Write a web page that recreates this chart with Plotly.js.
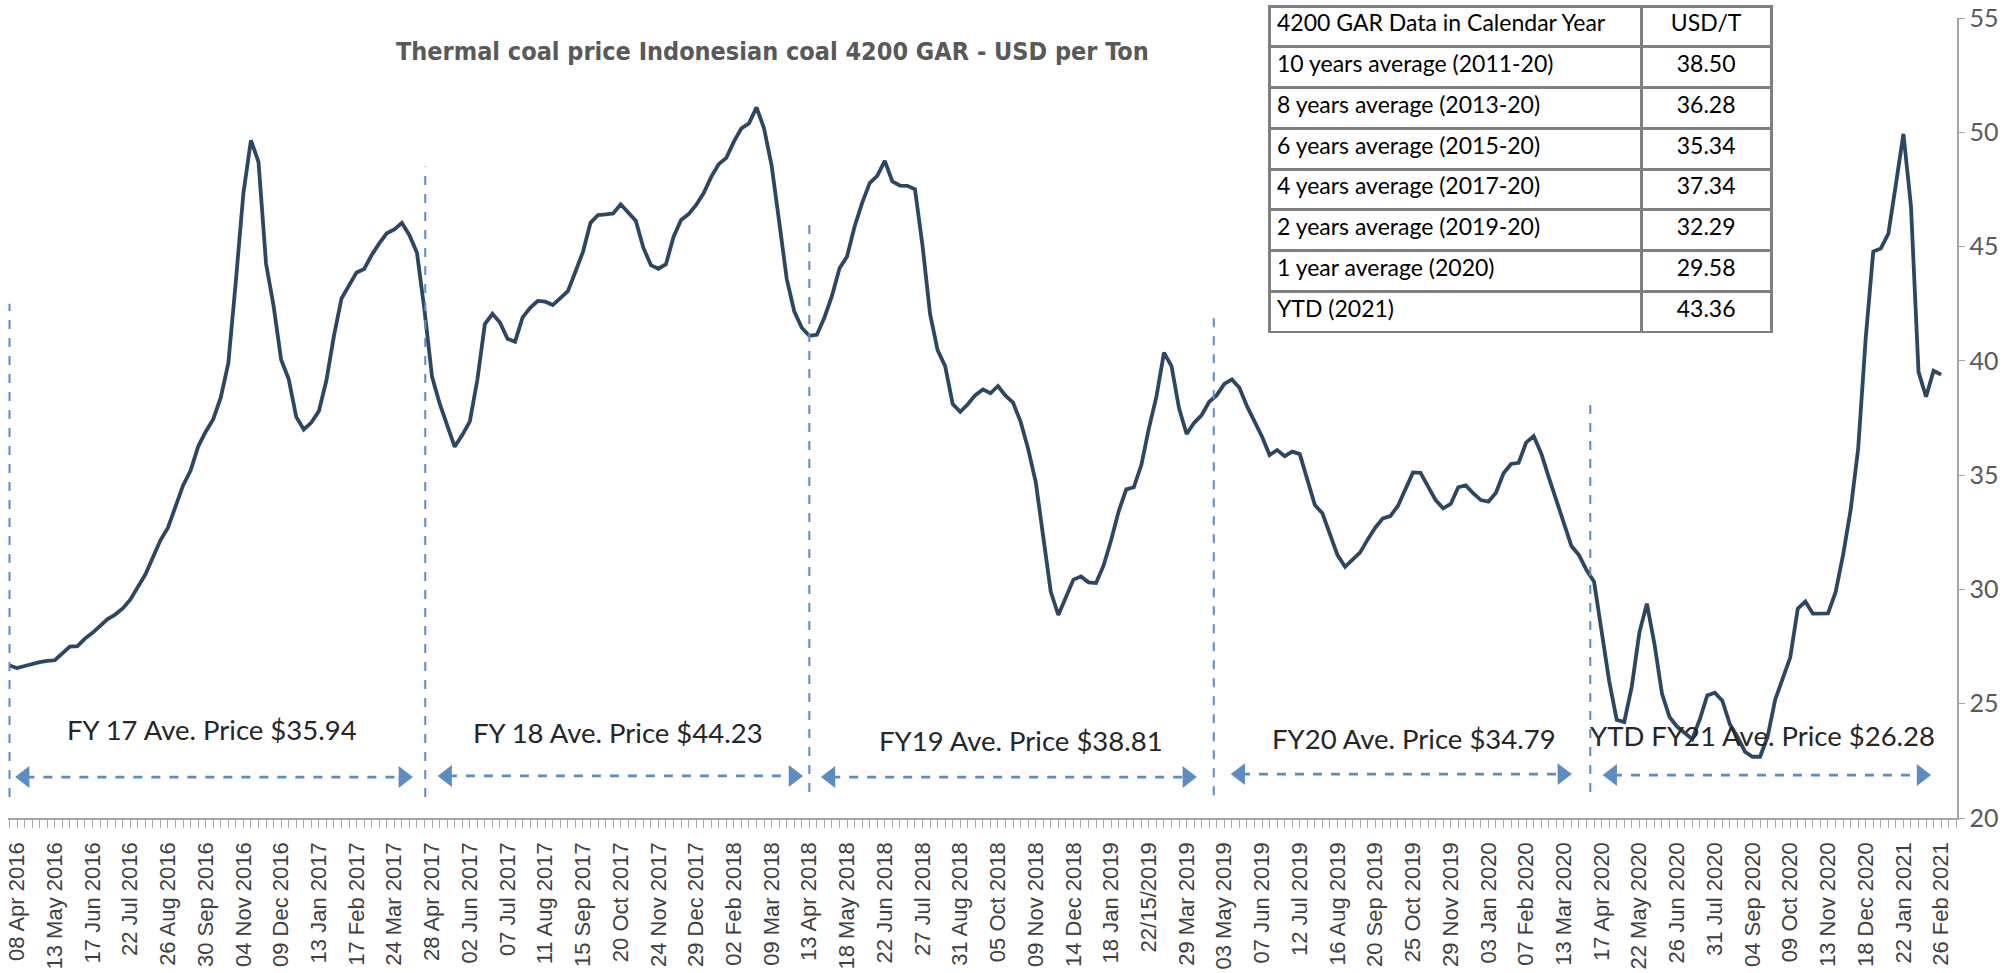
<!DOCTYPE html>
<html><head><meta charset="utf-8">
<script src="https://cdn.plot.ly/plotly-3.0.1.min.js"></script>
<style>html,body{margin:0;padding:0;background:#fff;} #chart{width:2016px;height:973px;}</style>
</head><body><div id="chart"></div>
<script>
// Weekly price, USD per ton (first point = week before 08 Apr 2016)
const prices = [
26.67,26.56,26.65,26.75,26.82,26.87,26.90,27.20,27.50,27.52,
27.85,28.10,28.40,28.70,28.90,29.17,29.55,30.10,30.65,31.40,
32.15,32.70,33.60,34.55,35.20,36.25,36.90,37.45,38.40,39.90,
43.50,47.35,49.65,48.70,44.25,42.40,40.05,39.20,37.55,37.00,
37.30,37.80,39.15,41.10,42.73,43.32,43.87,44.02,44.63,45.14,
45.58,45.75,46.04,45.50,44.73,42.20,39.30,38.14,37.19,36.24,
36.75,37.34,39.16,41.61,42.06,41.68,40.97,40.84,41.90,42.32,
42.62,42.59,42.44,42.76,43.05,43.90,44.77,46.04,46.38,46.41,
46.45,46.85,46.48,46.13,44.95,44.19,44.03,44.23,45.42,46.16,
46.42,46.82,47.34,48.05,48.61,48.88,49.59,50.17,50.39,51.09,
50.17,48.55,46.10,43.60,42.17,41.45,41.10,41.14,41.90,42.84,
44.05,44.57,45.88,46.91,47.78,48.09,48.75,47.85,47.67,47.66,
47.51,45.05,42.05,40.47,39.77,38.11,37.77,38.10,38.50,38.75,
38.58,38.90,38.48,38.17,37.34,36.15,34.71,32.45,29.90,28.88,
29.61,30.43,30.57,30.31,30.28,31.05,32.16,33.42,34.38,34.47,
35.44,37.05,38.43,40.36,39.77,37.92,36.80,37.29,37.63,38.21,
38.50,38.99,39.19,38.82,38.02,37.38,36.68,35.88,36.10,35.83,
36.03,35.92,34.79,33.69,33.33,32.38,31.50,30.99,31.29,31.62,
32.19,32.70,33.11,33.21,33.65,34.38,35.12,35.10,34.52,33.91,
33.55,33.74,34.47,34.55,34.20,33.91,33.84,34.23,35.08,35.49,
35.54,36.42,36.71,35.95,34.90,33.91,32.89,31.90,31.50,30.85,
30.34,28.20,26.00,24.30,24.20,25.75,28.10,29.38,27.62,25.44,
24.42,24.00,23.72,23.45,24.30,25.36,25.48,25.13,24.10,23.56,
22.90,22.68,22.68,23.56,25.17,26.10,27.03,29.16,29.47,28.94,
28.94,28.95,29.87,31.50,33.47,36.15,40.98,44.78,44.92,45.56,
47.72,49.93,46.77,39.52,38.43,39.57,39.40
];

// Tick labels, one every 5 weeks starting at the 2nd week
const tickLabels = [
"08 Apr 2016","13 May 2016","17 Jun 2016","22 Jul 2016","26 Aug 2016","30 Sep 2016",
"04 Nov 2016","09 Dec 2016","13 Jan 2017","17 Feb 2017","24 Mar 2017","28 Apr 2017",
"02 Jun 2017","07 Jul 2017","11 Aug 2017","15 Sep 2017","20 Oct 2017","24 Nov 2017",
"29 Dec 2017","02 Feb 2018","09 Mar 2018","13 Apr 2018","18 May 2018","22 Jun 2018",
"27 Jul 2018","31 Aug 2018","05 Oct 2018","09 Nov 2018","14 Dec 2018","18 Jan 2019",
"22/15/2019","29 Mar 2019","03 May 2019","07 Jun 2019","12 Jul 2019","16 Aug 2019",
"20 Sep 2019","25 Oct 2019","29 Nov 2019","03 Jan 2020","07 Feb 2020","13 Mar 2020",
"17 Apr 2020","22 May 2020","26 Jun 2020","31 Jul 2020","04 Sep 2020","09 Oct 2020",
"13 Nov 2020","18 Dec 2020","22 Jan 2021","26 Feb 2021"
];

// Table content
const tableHeader = ["4200 GAR Data in Calendar Year", "USD/T"];
const tableRowLabels = [
"10 years average (2011-20)","8 years average (2013-20)","6 years average (2015-20)",
"4 years average (2017-20)","2 years average (2019-20)","1 year average (2020)","YTD (2021)"
];
const tableRowValues = ["38.50","36.28","35.34","37.34","32.29","29.58","43.36"];

// Fiscal-year average labels
const fyLabels = [
"FY 17 Ave. Price $35.94","FY 18 Ave. Price $44.23","FY19 Ave. Price $38.81",
"FY20 Ave. Price $34.79","YTD FY21 Ave. Price $26.28"
];

const titleText = "Thermal coal price Indonesian coal 4200 GAR - USD per Ton";

// ---------- layout helpers (positions / styles) ----------
const xIdx = prices.map((_, i) => i);
const tickVals = tickLabels.map((_, k) => 1 + 5 * k);

const fyTextPos = [[26.8, 23.89],[80.65, 23.72],[134.1, 23.37],[186.1, 23.46],[232.3, 23.6]];
const fyArrowSpan = [[1.1, 53.1, 21.79],[57.1, 104.8, 21.84],[107.9, 157.0, 21.79],[162.2, 206.7, 21.92],[211.5, 254.3, 21.88]];
const dividerLines = [[0, 42.5, 20.92],[55.1, 48.5, 20.92],[106.0, 46.2, 21.14],[159.6, 42.05, 21.0],[209.5, 38.3, 21.14]];

const blue = '#5b8cc4';
const shapes = [];
dividerLines.forEach(d => shapes.push({type:'line', xref:'x', yref:'y', x0:d[0], x1:d[0], y0:d[2], y1:d[1],
  line:{color:blue, width:2, dash:'dash'}}));
fyArrowSpan.forEach(a => shapes.push({type:'line', xref:'x', yref:'y', x0:a[0]+1, x1:a[1]-1, y0:a[2], y1:a[2],
  line:{color:blue, width:2.8, dash:'dash'}}));

const annotations = fyLabels.map((t, k) => ({
  text: t, xref:'x', yref:'y', x: fyTextPos[k][0], y: fyTextPos[k][1], showarrow:false,
  font:{family:'Lato, Carlito, sans-serif', size:27.5, color:'#262626'}
}));
annotations.push({text:titleText, xref:'paper', yref:'paper', x:0.3925, y:0.9643, showarrow:false,
  font:{family:'"Liberation Sans Narrow", "Arial Narrow", "DejaVu Sans Condensed", sans-serif', size:25, color:'#595959', weight:'bold'}});

const arrowX = [], arrowY = [], arrowSym = [];
fyArrowSpan.forEach(a => {
  arrowX.push(a[0] + 0.9, a[1] - 0.9); arrowY.push(a[2], a[2]);
  arrowSym.push('triangle-left', 'triangle-right');
});

const cellFont = {family:'Lato, Carlito, sans-serif', size:23, color:'#000'};
const traces = [
  {type:'scatter', mode:'lines', x:xIdx, y:prices, line:{color:'#2c4764', width:3.8}, hoverinfo:'skip', showlegend:false},
  {type:'scatter', mode:'markers', x:arrowX, y:arrowY, marker:{symbol:arrowSym, size:19, color:blue, line:{width:0}},
   hoverinfo:'skip', showlegend:false},
  {type:'table', domain:{x:[0.647, 0.905], y:[0.597, 1]}, columnwidth:[373,130],
   header:{values:tableHeader.map(h => [h]), align:['left','center'], height:40.75,
     fill:{color:'white'}, line:{color:'#808080', width:3}, font:cellFont},
   cells:{values:[tableRowLabels, tableRowValues], align:['left','center'], height:40.75,
     fill:{color:'white'}, line:{color:'#808080', width:3}, font:cellFont}}
];

const layout = {
  width:2016, height:973,
  margin:{l:8, r:59, t:6, b:155},
  paper_bgcolor:'#fff', plot_bgcolor:'#fff',
  showlegend:false,
  xaxis:{range:[-0.2, 258.1], tickmode:'array', tickvals:tickVals, ticktext:tickLabels, tickangle:-90,
    ticks:'outside', ticklen:8, tickcolor:'#a6a6a6', tickwidth:1, ticklabelstandoff:6,
    minor:{tickmode:'linear', tick0:0, dtick:1, ticks:'outside', ticklen:8, tickcolor:'#a6a6a6', tickwidth:1, showgrid:false},
    showline:true, linecolor:'#a6a6a6', linewidth:1.5, showgrid:false, zeroline:false,
    tickfont:{family:'"Liberation Sans", Arial, sans-serif', size:22, color:'#404040'}},
  yaxis:{range:[20,55], domain:[0, 0.98522], side:'right', tick0:20, dtick:5, ticks:'outside', ticklen:6,
    tickcolor:'#a6a6a6', showline:true, linecolor:'#a6a6a6', linewidth:1.5, showgrid:false, zeroline:false,
    tickfont:{family:'Lato, Carlito, sans-serif', size:25, color:'#595959'}},
  shapes:shapes,
  annotations:annotations
};

Plotly.newPlot('chart', traces, layout, {displayModeBar:false, staticPlot:true});
</script>
</body></html>
